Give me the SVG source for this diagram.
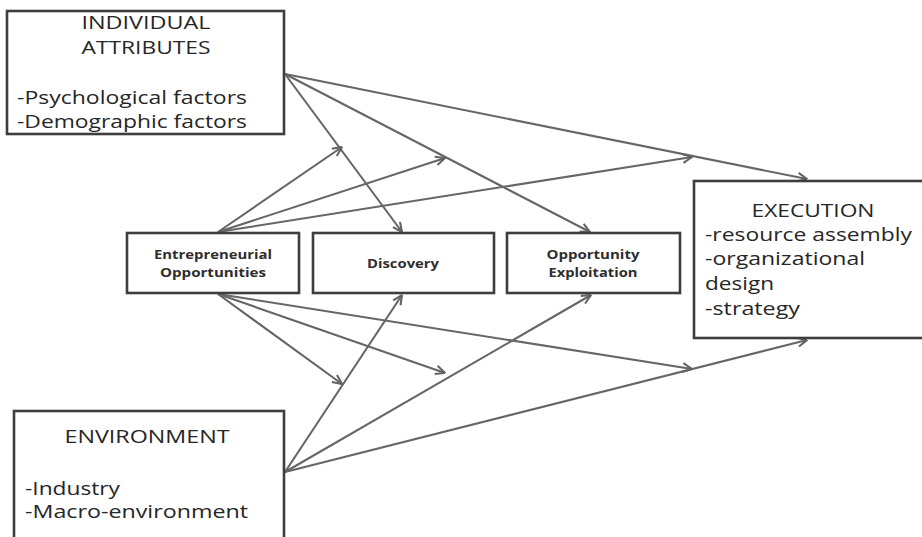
<svg xmlns="http://www.w3.org/2000/svg" width="922" height="537" viewBox="0 0 922 537">
  <defs>
    <marker id="ah" viewBox="0 0 10 10" refX="9.5" refY="5" markerWidth="11" markerHeight="11" markerUnits="userSpaceOnUse" orient="auto">
      <path d="M1,1 L9.5,5 L1,9" fill="none" stroke="#636363" stroke-width="1.9"/>
    </marker>
    <style>
      .box { fill: #fff; stroke: #3e3e3e; stroke-width: 2.6; }
      .edge { stroke: #666; stroke-width: 2.1; fill: none; marker-end: url(#ah); }
      .big { font-family: "Open Sans", "Liberation Sans", sans-serif; font-size: 18px; fill: #262626; }
      .small { font-family: "Open Sans", "Liberation Sans", sans-serif; font-size: 12px; font-weight: bold; fill: #2e2e2e; }
      .c { text-anchor: middle; }
    </style>
  </defs>
  <rect width="922" height="537" fill="#fff"/>

  <g id="connectors">
    <line class="edge" x1="285" y1="74" x2="402" y2="232"/>
    <line class="edge" x1="285" y1="74" x2="590" y2="232"/>
    <line class="edge" x1="285" y1="74" x2="807" y2="179"/>
    <line class="edge" x1="218" y1="232" x2="342" y2="147"/>
    <line class="edge" x1="218" y1="232" x2="445" y2="158"/>
    <line class="edge" x1="218" y1="232" x2="692" y2="157"/>
    <line class="edge" x1="218" y1="294" x2="342" y2="384"/>
    <line class="edge" x1="218" y1="294" x2="445" y2="373"/>
    <line class="edge" x1="218" y1="294" x2="692" y2="369"/>
    <line class="edge" x1="285" y1="472" x2="402" y2="295"/>
    <line class="edge" x1="285" y1="472" x2="591" y2="295"/>
    <line class="edge" x1="285" y1="472" x2="807" y2="340"/>
  </g>

  <g id="individual">
    <rect class="box" x="7" y="11" width="277" height="123"/>
    <text class="big c" x="146" y="29" textLength="129" lengthAdjust="spacingAndGlyphs">INDIVIDUAL</text>
    <text class="big c" x="146" y="54" textLength="129" lengthAdjust="spacingAndGlyphs">ATTRIBUTES</text>
    <text class="big" x="17" y="104" textLength="230" lengthAdjust="spacingAndGlyphs">-Psychological factors</text>
    <text class="big" x="17" y="128" textLength="230" lengthAdjust="spacingAndGlyphs">-Demographic factors</text>
  </g>

  <g id="entrepreneurial">
    <rect class="box" x="127" y="233" width="172" height="60"/>
    <text class="small c" x="213" y="259" textLength="118" lengthAdjust="spacingAndGlyphs">Entrepreneurial</text>
    <text class="small c" x="213" y="277" textLength="106" lengthAdjust="spacingAndGlyphs">Opportunities</text>
  </g>

  <g id="discovery">
    <rect class="box" x="313" y="233" width="181" height="60"/>
    <text class="small c" x="403" y="268" textLength="72" lengthAdjust="spacingAndGlyphs">Discovery</text>
  </g>

  <g id="exploitation">
    <rect class="box" x="507" y="233" width="173" height="60"/>
    <text class="small c" x="593" y="259" textLength="93" lengthAdjust="spacingAndGlyphs">Opportunity</text>
    <text class="small c" x="593" y="277" textLength="89" lengthAdjust="spacingAndGlyphs">Exploitation</text>
  </g>

  <g id="execution">
    <rect class="box" x="694" y="181" width="240" height="157"/>
    <text class="big c" x="813" y="217" textLength="123" lengthAdjust="spacingAndGlyphs">EXECUTION</text>
    <text class="big" x="705" y="241" textLength="207" lengthAdjust="spacingAndGlyphs">-resource assembly</text>
    <text class="big" x="705" y="265" textLength="160" lengthAdjust="spacingAndGlyphs">-organizational</text>
    <text class="big" x="705" y="290" textLength="69" lengthAdjust="spacingAndGlyphs">design</text>
    <text class="big" x="705" y="315" textLength="95" lengthAdjust="spacingAndGlyphs">-strategy</text>
  </g>

  <g id="environment">
    <rect class="box" x="14" y="411" width="270" height="140"/>
    <text class="big c" x="147" y="443" textLength="165" lengthAdjust="spacingAndGlyphs">ENVIRONMENT</text>
    <text class="big" x="25" y="495" textLength="95" lengthAdjust="spacingAndGlyphs">-Industry</text>
    <text class="big" x="25" y="518" textLength="223" lengthAdjust="spacingAndGlyphs">-Macro-environment</text>
  </g>
</svg>
